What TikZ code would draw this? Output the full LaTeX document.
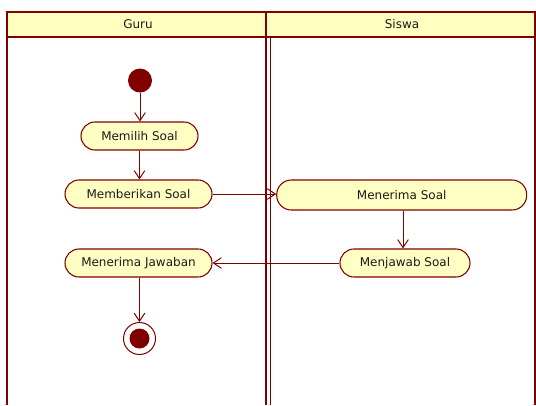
\documentclass[tikz,border=0pt]{standalone}
\usepackage{fontspec}
\setmainfont{DejaVu Sans}
\usepackage{xcolor}
\usepackage{tikz}
\usetikzlibrary{arrows.meta}
\definecolor{frame}{HTML}{800000}
\definecolor{act}{HTML}{FFFFC4}
\definecolor{head}{HTML}{FFFFC0}
\definecolor{ink}{HTML}{1A1A1A}
\tikzset{
  lane/.style={draw=frame, line width=1.6pt},
  actbox/.style={draw=frame, fill=act, line width=0.8pt, rounded corners=10.5pt,
    minimum height=21pt, inner sep=0pt, text=ink, font=\fontsize{9}{10}\selectfont},
  flow/.style={draw=frame, line width=0.75pt, -{Straight Barb[length=6pt,width=8pt]}},
  initial/.style={circle, fill=frame, minimum size=18pt, inner sep=0pt},
  final/.style={circle, draw=frame, line width=0.75pt, fill=white, minimum size=24pt, inner sep=0pt,
    path picture={\fill[frame] (path picture bounding box.center) circle (7.5pt);}},
  headlab/.style={text=ink, font=\fontsize{9}{10}\selectfont},
}
\begin{document}
\begin{tikzpicture}[x=0.75pt,y=-0.75pt]
  \useasboundingbox (0,0) rectangle (536,405);
  % swimlanes
  \fill[head] (7,12) rectangle (535,37);
  \draw[lane] (7,405) -- (7,12) -- (535,12) -- (535,405);
  \draw[lane] (7,37) -- (535,37);
  \draw[lane, line width=2pt] (266,12) -- (266,405);
  \draw[lane, line width=1.4pt] (270.5,37) -- (270.5,405);
  \node[headlab] (guru) at (138,24.5) {Guru};
  \node[headlab] (siswa) at (402,24.5) {Siswa};

  % activities
  \node[initial] (start) at (140,80.5) {};
  \node[actbox, minimum width=87.75pt] (pilih) at (139.5,136) {Memilih Soal};
  \node[actbox, minimum width=110.25pt] (beri) at (138.5,194) {Memberikan Soal};
  \node[actbox, minimum width=187.5pt, minimum height=22.5pt, rounded corners=11pt] (terima) at (401.7,195) {Menerima Soal};
  \node[actbox, minimum width=97.5pt] (jawab) at (405,263) {Menjawab Soal};
  \node[actbox, minimum width=110.25pt] (terimajwb) at (138.5,263) {Menerima Jawaban};
  \node[final] (stop) at (139.5,338.5) {};

  % control flow
  \draw[flow] (start) -- (start |- pilih.north);
  \draw[flow] (pilih) -- (pilih |- beri.north);
  \draw[flow] (beri) -- (terima.west |- beri);
  \draw[flow] (terima.south -| 403,0) -- (403,0 |- jawab.north);
  \draw[flow] (jawab) -- (terimajwb.east |- jawab);
  \draw[flow] (terimajwb.south -| stop) -- (stop);
\end{tikzpicture}
\end{document}
